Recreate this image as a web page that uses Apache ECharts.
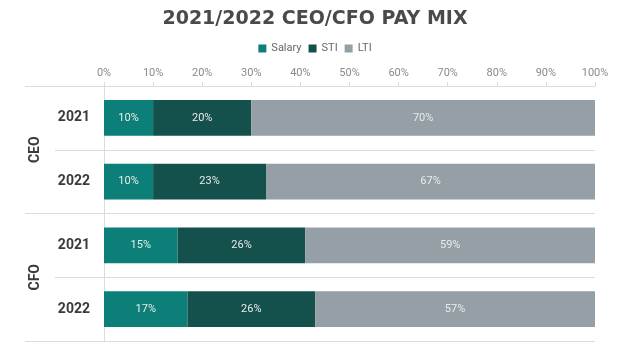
<!DOCTYPE html>
<html>
<head>
<meta charset="utf-8">
<script src="https://cdn.jsdelivr.net/npm/echarts@6/dist/echarts.min.js"></script>
<style>html,body{margin:0;padding:0;background:#fff}#c{width:630px;height:361px}</style>
</head>
<body>
<div id="c"></div>
<script>
var rows = ['CEO 2021', 'CEO 2022', 'CFO 2021', 'CFO 2022'];
var groups = ['CEO', 'CFO'];
var salary = [10, 10, 15, 17];
var sti = [20, 23, 26, 26];
var lti = [70, 67, 59, 57];
var xTicks = ['0%', '10%', '20%', '30%', '40%', '50%', '60%', '70%', '80%', '90%', '100%'];

var chart = echarts.init(document.getElementById('c'), null, {renderer: 'canvas'});
var lineColor = '#dcdcdc';
function mk(name, data, color) {
  return {
    name: name, type: 'bar', stack: 'all', data: data, barWidth: '56%',
    itemStyle: {color: color},
    label: {show: true, position: 'inside', formatter: function (p) { return p.value + '%'; },
      color: '#e8ecec', fontSize: 11, fontFamily: 'Roboto'}
  };
}
chart.setOption({
  animation: false,
  title: {text: '2021/2022 CEO/CFO PAY MIX', left: 'center', top: 5,
    textStyle: {fontFamily: 'DejaVu Sans', fontWeight: 'bold', fontSize: 19, color: '#4a4a4a'}},
  legend: {top: 38, left: 'center', itemWidth: 8, itemHeight: 8, itemGap: 7,
    icon: 'rect', textStyle: {fontSize: 11, color: '#666', fontFamily: 'Roboto'},
    data: ['Salary', 'STI', 'LTI']},
  grid: {left: 104, right: 35, top: 86, bottom: 20},
  xAxis: {type: 'value', position: 'top', min: 0, max: 100, interval: 10,
    axisLine: {show: true, lineStyle: {color: lineColor}},
    axisTick: {show: true, length: 4, lineStyle: {color: lineColor}},
    splitLine: {show: false},
    axisLabel: {color: '#8a8a8a', fontSize: 11, fontFamily: 'Roboto', margin: 7,
      formatter: function (v) { return xTicks[Math.round(v / 10)]; }}},
  yAxis: [{
    type: 'category', data: rows, inverse: true, position: 'left', offset: 0,
    axisLine: {show: true, lineStyle: {color: lineColor}},
    axisTick: {show: true, length: 49, lineStyle: {color: lineColor}},
    splitLine: {show: true, lineStyle: {color: lineColor}},
    axisLabel: {margin: 14, fontFamily: 'Roboto', fontWeight: 'bold', fontSize: 14, color: '#3a3a3a',
      formatter: function (v) { return v.split(' ')[1]; }}
  }, {
    type: 'category', data: groups, inverse: true, position: 'left', offset: 0,
    axisLine: {show: false},
    axisTick: {show: true, length: 79, lineStyle: {color: lineColor}},
    splitLine: {show: false},
    axisLabel: {rotate: 90, margin: 62, fontFamily: 'Roboto', fontWeight: 'bold', fontSize: 14, color: '#3a3a3a'}
  }],
  series: [
    mk('Salary', salary, '#0b7f78'),
    mk('STI', sti, '#14504c'),
    mk('LTI', lti, '#959fa6')
  ]
});
</script>
</body>
</html>
